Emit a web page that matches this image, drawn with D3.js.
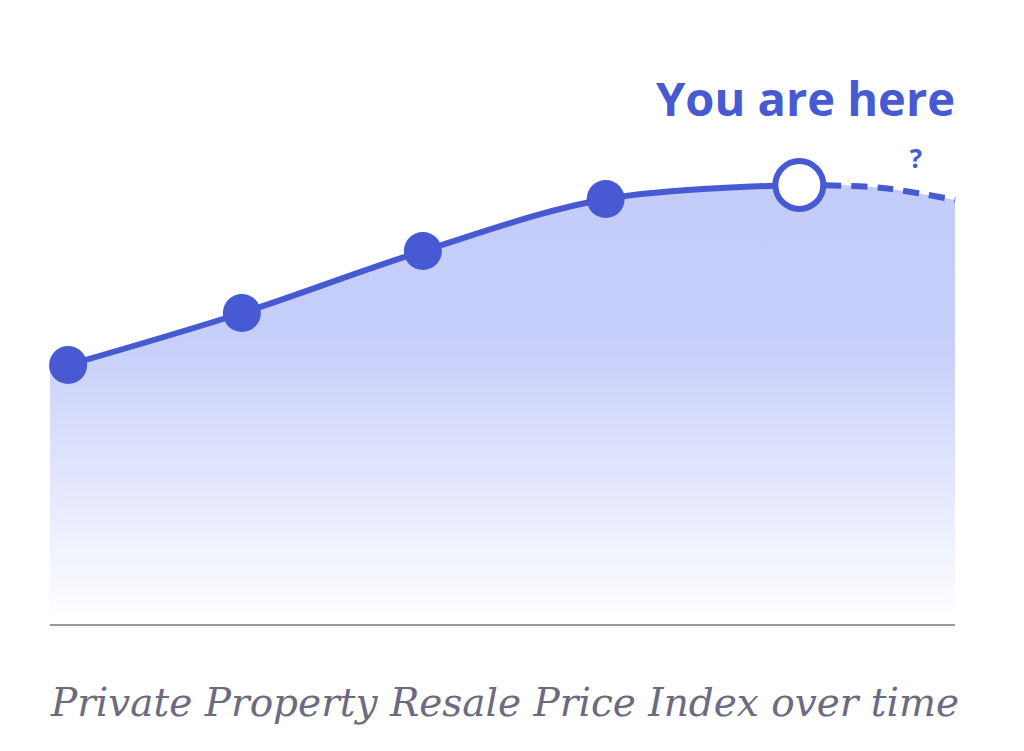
<!DOCTYPE html>
<html><head><meta charset="utf-8">
<script src="https://cdn.jsdelivr.net/npm/d3@7"></script>
<style>body{margin:0;background:#fff}</style></head>
<body><svg id="c" width="1024" height="751"></svg>
<script>
const pastT = [0, 0.1, 1.06, 2.06, 3.07, 4.14];
const pastV = [50, 51, 61.4, 73.8, 84.2, 87];
const futureT = [4.14, 4.6, 5];
const futureV = [87, 86.4, 84];
const markerIdx = [1, 2, 3, 4];
const hereLabel = "You are here";
const futureLabel = "?";
const title = "Private Property Resale Price Index over time";

const svg = d3.select("#c");
const x = d3.scaleLinear().domain([0, 5]).range([50, 955]);
const y = d3.scaleLinear().domain([0, 100]).range([620, 120]);
const blue = "#4759d3";
const past = pastT.map((t, i) => [t, pastV[i]]);
const future = futureT.map((t, i) => [t, futureV[i]]);
const all = past.concat(future.slice(1));

const defs = svg.append("defs");
const g = defs.append("linearGradient").attr("id", "fill")
  .attr("gradientUnits", "userSpaceOnUse").attr("x1", 0).attr("y1", 180).attr("x2", 0).attr("y2", 620);
g.append("stop").attr("offset", "0").attr("stop-color", "#c3cbf9");
g.append("stop").attr("offset", "0.36").attr("stop-color", "#c6cefa");
g.append("stop").attr("offset", "1").attr("stop-color", "#ffffff");

const curve = d3.curveCatmullRom;
svg.append("path").datum(all)
  .attr("d", d3.area().x(d => x(d[0])).y0(y(0)).y1(d => y(d[1])).curve(curve))
  .attr("fill", "url(#fill)");

svg.append("path").datum(past)
  .attr("d", d3.line().x(d => x(d[0])).y(d => y(d[1])).curve(curve))
  .attr("fill", "none").attr("stroke", blue).attr("stroke-width", 6);
svg.append("path").datum(future)
  .attr("d", d3.line().x(d => x(d[0])).y(d => y(d[1])).curve(curve))
  .attr("fill", "none").attr("stroke", blue).attr("stroke-width", 6).attr("stroke-dasharray", "16,10");

svg.selectAll("circle.m").data(markerIdx.map(i => past[i])).enter().append("circle")
  .attr("cx", d => x(d[0])).attr("cy", d => y(d[1])).attr("r", 19).attr("fill", blue);
const last = past[past.length - 1];
svg.append("circle").attr("cx", x(last[0])).attr("cy", y(last[1])).attr("r", 24)
  .attr("fill", "#fff").attr("stroke", blue).attr("stroke-width", 6);

svg.append("line").attr("x1", 50).attr("x2", 955).attr("y1", 625).attr("y2", 625)
  .attr("stroke", "#999").attr("stroke-width", 2);

svg.append("text").attr("x", 955).attr("y", 116).attr("text-anchor", "end")
  .attr("font-family", "Open Sans").attr("font-weight", 700).attr("font-size", 47)
  .attr("fill", blue).text(hereLabel);
svg.append("text").attr("x", 916).attr("y", 168).attr("text-anchor", "middle")
  .attr("font-family", "Open Sans").attr("font-weight", 700).attr("font-size", 26)
  .attr("fill", blue).text(futureLabel);
svg.append("text").attr("x", 505).attr("y", 716).attr("text-anchor", "middle")
  .attr("font-family", "DejaVu Serif").attr("font-style", "italic").attr("font-size", 39)
  .attr("fill", "#6b6a80").text(title);
</script></body></html>
